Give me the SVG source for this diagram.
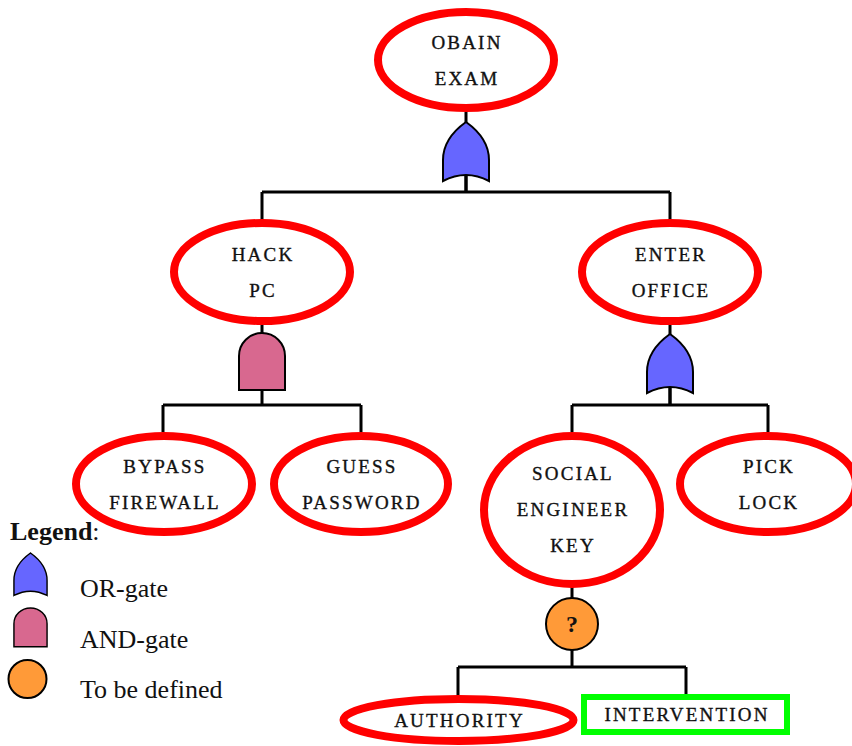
<svg xmlns="http://www.w3.org/2000/svg" width="852" height="746" viewBox="0 0 852 746">
<style>
.node{fill:none;stroke:#ff0000;stroke-width:8}
.lbl{font-family:"Liberation Serif",serif;font-size:19px;letter-spacing:2.2px;fill:#111;stroke:#111;stroke-width:0.35;text-anchor:middle}
.wire{fill:none;stroke:#000;stroke-width:3}
.or{fill:#6666ff;stroke:#000;stroke-width:2}
.and{fill:#d8688f;stroke:#000;stroke-width:2}
.tbd{fill:#ff9a38;stroke:#000;stroke-width:2}
.leg{font-family:"Liberation Serif",serif;font-size:26px;fill:#111}
</style>
<defs>
<path id="orShape" d="M0,0 C14,10 23,22 23,38 L23,59 Q0,47 -23,59 L-23,38 C-23,22 -14,10 0,0 Z"/>
<path id="andShape" d="M-23,57 L-23,23 A23,23 0 0 1 23,23 L23,57 Z"/>
</defs>
<rect width="852" height="746" fill="#fff"/>
<g id="connectors">
<path class="wire" d="M466,112 V192 M262,192 H670 M262,192 V220 M670,192 V220"/>
<path class="wire" d="M262,324 V405 M163,405 H361 M163,405 V432 M361,405 V432"/>
<path class="wire" d="M670,324 V405 M572,405 H768 M572,405 V432 M768,405 V432"/>
<path class="wire" d="M572,587 V667 M458,667 H686 M458,667 V697 M686,667 V697"/>
</g>
<g id="gate-or-top"><use href="#orShape" class="or" x="466" y="122"/><path class="wire" d="M466,175 V192" stroke-width="2.5"/></g>
<g id="gate-and-hack"><use href="#andShape" class="and" x="262" y="333"/></g>
<g id="gate-or-office"><use href="#orShape" class="or" x="670" y="334"/><path class="wire" d="M670,387 V405" stroke-width="2.5"/></g>
<g id="gate-tbd"><circle class="tbd" cx="572" cy="624" r="26"/><text x="572" y="632" font-family="Liberation Serif,serif" font-size="24" font-weight="bold" text-anchor="middle" fill="#111">?</text></g>
<g id="n-obain"><ellipse class="node" cx="466" cy="60" rx="88" ry="48"/><text class="lbl" x="467" y="49">OBAIN</text><text class="lbl" x="467" y="85">EXAM</text></g>
<g id="n-hack"><ellipse class="node" cx="262" cy="272" rx="88" ry="49"/><text class="lbl" x="263" y="261">HACK</text><text class="lbl" x="263" y="297">PC</text></g>
<g id="n-enter"><ellipse class="node" cx="670" cy="272" rx="88" ry="49"/><text class="lbl" x="671" y="261">ENTER</text><text class="lbl" x="671" y="297">OFFICE</text></g>
<g id="n-bypass"><ellipse class="node" cx="164" cy="484" rx="88" ry="48"/><text class="lbl" x="165" y="473">BYPASS</text><text class="lbl" x="165" y="509">FIREWALL</text></g>
<g id="n-guess"><ellipse class="node" cx="361" cy="484" rx="87" ry="48"/><text class="lbl" x="362" y="473">GUESS</text><text class="lbl" x="362" y="509">PASSWORD</text></g>
<g id="n-social"><ellipse class="node" cx="572" cy="510" rx="88" ry="74"/><text class="lbl" x="573" y="480">SOCIAL</text><text class="lbl" x="573" y="516">ENGINEER</text><text class="lbl" x="573" y="552">KEY</text></g>
<g id="n-pick"><ellipse class="node" cx="768" cy="484" rx="88" ry="48"/><text class="lbl" x="769" y="473">PICK</text><text class="lbl" x="769" y="509">LOCK</text></g>
<g id="n-authority"><ellipse class="node" cx="458.5" cy="720" rx="115" ry="21"/><text class="lbl" x="459.5" y="727">AUTHORITY</text></g>
<g id="n-intervention"><rect x="584" y="697" width="203" height="35" fill="none" stroke="#00ff00" stroke-width="6"/><text class="lbl" x="687" y="721">INTERVENTION</text></g>
<g id="legend">
<text x="10" y="540" font-family="Liberation Serif,serif" font-size="26" fill="#111"><tspan font-weight="bold">Legend</tspan>:</text>
<use href="#orShape" class="or" transform="translate(30.5,553) scale(0.72)"/>
<text class="leg" x="80" y="597">OR-gate</text>
<use href="#andShape" class="and" transform="translate(30.5,608) scale(0.72,0.68)"/>
<text class="leg" x="80" y="648">AND-gate</text>
<circle class="tbd" cx="27.5" cy="679" r="19"/>
<text class="leg" x="80" y="698">To be defined</text>
</g>
</svg>
